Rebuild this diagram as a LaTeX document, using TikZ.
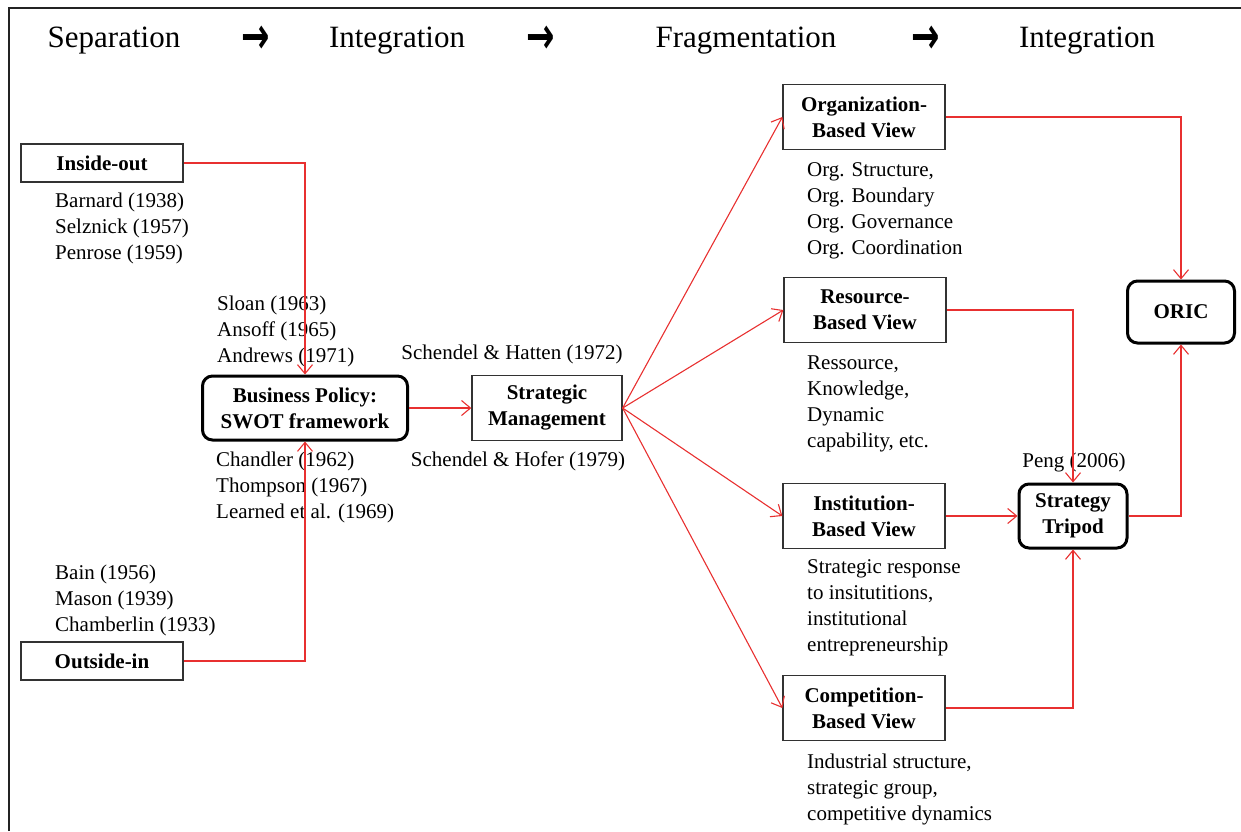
\documentclass[tikz,border=0pt]{standalone}
\usepackage{fontspec}
\setmainfont{Liberation Serif}
\newfontfamily\arrowfont{DejaVu Sans}
\usetikzlibrary{arrows.meta}
\definecolor{connred}{RGB}{232,48,48}
\definecolor{framegray}{RGB}{35,35,35}
\definecolor{boxgray}{RGB}{50,50,50}
\begin{document}
\begin{tikzpicture}[x=1pt,y=-1pt,
  plainbox/.style={draw=boxgray, line width=1.3pt, fill=white, align=center, inner sep=0pt,
    font=\fontsize{21}{26}\selectfont\bfseries},
  roundbox/.style={draw=black, line width=3pt, rounded corners=10pt, fill=white, align=center, inner sep=0pt,
    font=\fontsize{21}{26}\selectfont\bfseries},
  cite/.style={font=\fontsize{21}{26}\selectfont, align=left, inner sep=0pt, anchor=west},
  head/.style={font=\fontsize{31}{36}\selectfont, inner sep=0pt},
  headarrow/.style={font=\arrowfont\bfseries\fontsize{34}{36}\selectfont, inner sep=0pt},
  conn/.style={draw=connred, line width=1.1pt, -{Straight Barb[length=9pt,width=15pt,line width=1.1pt]}}
]
\useasboundingbox (0,0) rectangle (1241,831);
% frame
\draw[framegray, line width=2pt] (9,831) -- (9,8) -- (1241,8);
% header
\node[head] (h1) at (114,41) {Separation};
\node[headarrow] (a1) at (256,40) {\scalebox{1}[1.5]{→}};
\node[head] (h2) at (397,41) {Integration};
\node[headarrow] (a2) at (541,40) {\scalebox{1}[1.5]{→}};
\node[head] (h3) at (746,41) {Fragmentation};
\node[headarrow] (a3) at (926,40) {\scalebox{1}[1.5]{→}};
\node[head] (h4) at (1087,41) {Integration};

% left column
\node[plainbox, minimum width=162pt, minimum height=38pt] (io) at (102,163) {Inside-out};
\node[cite] (c1) at (55,228) {Barnard (1938)\\Selznick (1957)\\Penrose (1959)};
\node[cite] (c2) at (217,331) {Sloan (1963)\\Ansoff (1965)\\Andrews (1971)};
\node[roundbox, minimum width=205pt, minimum height=64pt] (bp) at (305,408) {Business Policy:\\SWOT framework};
\node[cite] (c3) at (216,487) {Chandler (1962)\\Thompson (1967)\\Learned et al. (1969)};
\node[cite] (c4) at (55,600) {Bain (1956)\\Mason (1939)\\Chamberlin (1933)};
\node[plainbox, minimum width=162pt, minimum height=38pt] (oi) at (102,661) {Outside-in};

% strategic management
\node[plainbox, minimum width=150pt, minimum height=65pt] (sm) at (547,408) {Strategic\\Management};
\node[cite, anchor=center] (c5) at (512,354) {Schendel \& Hatten (1972)};
\node[cite, anchor=center] (c6) at (518,461) {Schendel \& Hofer (1979)};

% views
\node[plainbox, minimum width=162pt, minimum height=65pt] (obv) at (864,117) {Organization-\\Based View};
\node[cite] (t1) at (807,211) {Org. Structure,\\Org. Boundary\\Org. Governance\\Org. Coordination};
\node[plainbox, minimum width=162pt, minimum height=65pt] (rbv) at (865,310) {Resource-\\Based View};
\node[cite] (t2) at (807,404) {Ressource,\\Knowledge,\\Dynamic\\capability, etc.};
\node[plainbox, minimum width=162pt, minimum height=65pt] (ibv) at (864,516) {Institution-\\Based View};
\node[cite] (t3) at (807,608) {Strategic response\\to insitutitions,\\institutional\\entrepreneurship};
\node[plainbox, minimum width=162pt, minimum height=65pt] (cbv) at (864,708) {Competition-\\Based View};
\node[cite] (t4) at (807,789) {Industrial structure,\\strategic group,\\competitive dynamics};

% integration
\node[roundbox, minimum width=108pt, minimum height=64pt] (st) at (1073,516) {Strategy\\Tripod};
\node[cite, anchor=center] (peng) at (1074,462) {Peng (2006)};
\node[roundbox, minimum width=107pt, minimum height=62pt] (oric) at (1181,312) {ORIC};

% connectors
\draw[conn] (io.east) -| (bp.north);
\draw[conn] (oi.east) -| (bp.south);
\draw[conn] (bp.east) -- (sm.west);
\draw[conn] (sm.east) -- (obv.west);
\draw[conn] (sm.east) -- (rbv.west);
\draw[conn] (sm.east) -- (ibv.west);
\draw[conn] (sm.east) -- (cbv.west);
\draw[conn] (obv.east) -| (oric.north);
\draw[conn] (rbv.east) -| (st.north);
\draw[conn] (ibv.east) -- (st.west);
\draw[conn] (cbv.east) -| (st.south);
\draw[conn] (st.east) -| (oric.south);
\end{tikzpicture}
\end{document}
